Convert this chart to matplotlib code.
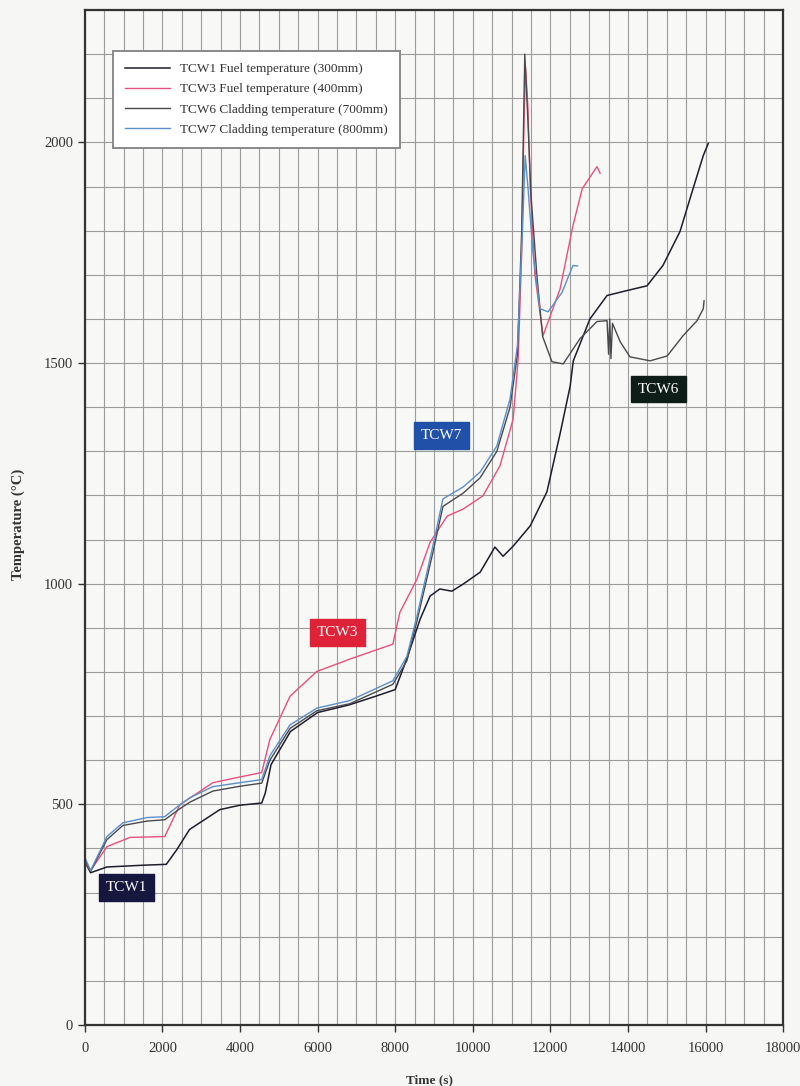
# Fuel and cladding thermocouple temperatures against time, redrawn from a scanned test report figure.

import matplotlib.pyplot as plt
from matplotlib.ticker import MultipleLocator

# TCW1 fuel temperature (300mm)
t_tcw1 = [0, 150, 570, 1500, 2100, 2370, 2700, 3480, 4000, 4560, 4650, 4800, 5300, 6000, 6800, 7500,
          8000, 8300, 8640, 8900, 9150, 9460, 9750, 10190, 10570, 10780, 11040, 11480, 11910, 12250,
          12510, 12590, 13020, 13460, 13870, 14490, 14900, 15340, 15680, 15940, 16070]
temp_tcw1 = [370, 345, 358, 362, 364, 397, 443, 488, 498, 503, 525, 590, 665, 708, 725, 745,
             760, 830, 919, 972, 988, 983, 999, 1026, 1083, 1062, 1085, 1131, 1208, 1340,
             1448, 1505, 1600, 1653, 1662, 1675, 1721, 1798, 1896, 1970, 1998]

# TCW3 fuel temperature (400mm)
t_tcw3 = [0, 150, 570, 1160, 2060, 2450, 3300, 4000, 4560, 4770, 5290, 5980, 6830, 7940, 8120, 8560,
          8900, 9340, 9750, 10260, 10700, 11040, 11170, 11260, 11320, 11360, 11420, 11480, 11600,
          11810, 12250, 12580, 12820, 13200, 13280]
temp_tcw3 = [370, 350, 404, 425, 427, 499, 549, 562, 572, 647, 745, 801, 829, 863, 935, 1010,
             1094, 1153, 1169, 1199, 1267, 1373, 1510, 1750, 2050, 2170, 2080, 1900, 1700,
             1562, 1668, 1811, 1895, 1945, 1930]

# TCW6 cladding temperature (700mm)
t_tcw6 = [0, 150, 570, 980, 1600, 2060, 2450, 2710, 3300, 4000, 4560, 4770, 5290, 5980, 6830, 7940,
          8300, 8560, 8970, 9230, 9750, 10190, 10620, 10960, 11150, 11260, 11340, 11420, 11500,
          11650, 11800, 12040, 12330, 12760, 13200, 13460, 13500, 13530, 13560, 13600, 13800,
          14050, 14570, 15010, 15420, 15780, 15940, 15960]
temp_tcw6 = [375, 348, 420, 452, 462, 465, 490, 505, 530, 541, 548, 600, 672, 712, 728, 772,
             825, 915, 1070, 1175, 1205, 1240, 1300, 1400, 1520, 1800, 2200, 2050, 1880,
             1700, 1560, 1503, 1498, 1555, 1594, 1596, 1520, 1600, 1510, 1590, 1548,
             1514, 1505, 1516, 1562, 1596, 1623, 1641]

# TCW7 cladding temperature (800mm)
t_tcw7 = [0, 150, 570, 980, 1600, 2060, 2450, 2710, 3300, 4000, 4560, 4770, 5290, 5980, 6830, 7940,
          8300, 8560, 8970, 9230, 9750, 10190, 10620, 10960, 11150, 11280, 11350, 11420, 11550,
          11730, 11940, 12300, 12580, 12700]
temp_tcw7 = [380, 350, 427, 458, 470, 472, 499, 515, 540, 549, 556, 610, 680, 718, 735, 780,
             835, 926, 1085, 1192, 1219, 1253, 1312, 1419, 1540, 1800, 1970, 1900, 1750,
             1623, 1616, 1660, 1721, 1720]

legend_labels = ["TCW1 Fuel temperature (300mm)", "TCW3 Fuel temperature (400mm)",
                 "TCW6 Cladding temperature (700mm)", "TCW7 Cladding temperature (800mm)"]

# tag boxes written on the plot: name, time, temperature, box colour
tags = [("TCW1", 1080, 311, "#16163f"),
        ("TCW3", 6520, 890, "#de2238"),
        ("TCW7", 9200, 1335, "#2150a8"),
        ("TCW6", 14780, 1441, "#0f1d19")]

plt.rcParams['font.family'] = ['Liberation Serif', 'DejaVu Serif']

fig = plt.figure(figsize=(8, 10.86), dpi=100, facecolor='#f6f6f4')
ax = fig.add_axes([0.106, 0.0562, 0.873, 0.9346], facecolor='#f8f8f6')

ax.plot(t_tcw1, temp_tcw1, color='#1d1d2c', lw=1.1, label=legend_labels[0])
ax.plot(t_tcw3, temp_tcw3, color='#e8507e', lw=1.0, label=legend_labels[1])
ax.plot(t_tcw6, temp_tcw6, color='#4a4a4e', lw=1.0, label=legend_labels[2])
ax.plot(t_tcw7, temp_tcw7, color='#5a90c8', lw=1.0, label=legend_labels[3])

for name, tx, ty, col in tags:
    ax.text(tx, ty, name, color='white', fontsize=11, ha='center', va='center',
            bbox=dict(boxstyle='square,pad=0.45', fc=col, ec=col))

ax.set_xlim(0, 18000)
ax.set_ylim(0, 2300)
ax.set_xticks(range(0, 18001, 2000))
ax.set_yticks(range(0, 2001, 500))
ax.xaxis.set_minor_locator(MultipleLocator(500))         # vertical grid every 500 s
ax.yaxis.set_minor_locator(MultipleLocator(100))         # horizontal grid every 100 C
ax.grid(which='both', color='#9c9c9c', lw=0.8)
ax.set_axisbelow(True)
ax.tick_params(which='major', length=5, width=1, labelsize=10.5, colors='#333333')
ax.tick_params(axis='x', which='major', pad=7)
ax.tick_params(which='minor', length=0)
for side in ax.spines.values():
    side.set_linewidth(1.6)
    side.set_color('#333333')

ax.set_xlabel("Time (s)", fontsize=9.5, fontweight='bold', color='#333333')
ax.set_ylabel("Temperature (°C)", fontsize=10.5, fontweight='bold', color='#333333')
ax.xaxis.set_label_coords(0.494, -0.049)
ax.yaxis.set_label_coords(-0.086, 0.493)

leg = ax.legend(loc='upper left', bbox_to_anchor=(0.031, 0.966), fontsize=9.5, handlelength=3.4,
                labelspacing=0.6, borderpad=0.9, fancybox=False, framealpha=1)
leg.get_frame().set_edgecolor('#8a8a8a')
leg.get_frame().set_linewidth(1.4)
for txt in leg.get_texts():
    txt.set_color('#333333')

fig.savefig("out.png", dpi=100, facecolor=fig.get_facecolor())
